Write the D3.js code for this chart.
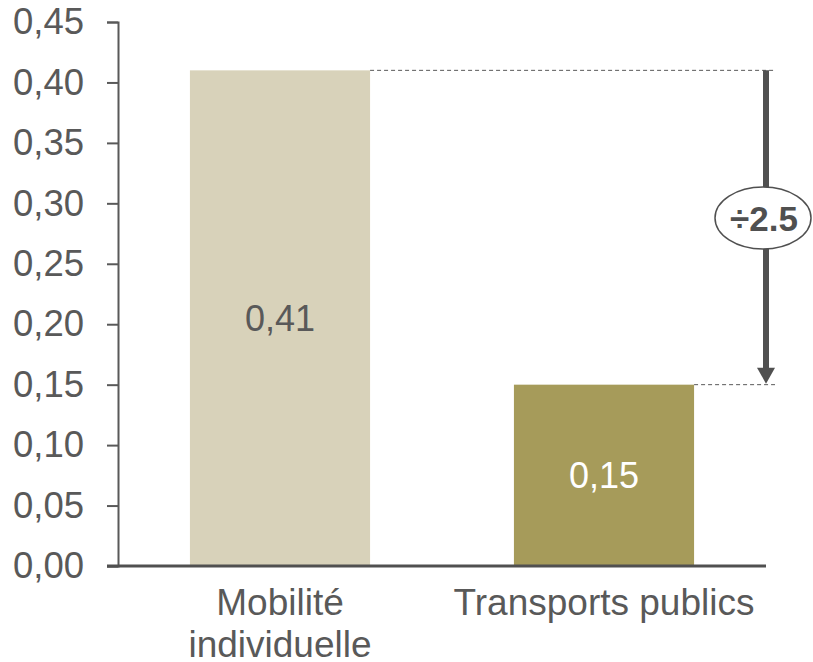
<!DOCTYPE html>
<html>
<head>
<meta charset="utf-8">
<script src="https://cdn.jsdelivr.net/npm/d3@7"></script>
<style>
  body { margin: 0; background: #fff; }
  text { font-family: "Liberation Sans", Arial, sans-serif; fill: #595959; }
</style>
</head>
<body>
<script>
var categories = [["Mobilité", "individuelle"], ["Transports publics"]];
var values = [0.41, 0.15];
var barColors = ["#d8d2ba", "#a69b5a"];
var labelColors = ["#595959", "#ffffff"];
var tickValues = [0, 0.05, 0.10, 0.15, 0.20, 0.25, 0.30, 0.35, 0.40, 0.45];
var ratioLabel = "÷2.5";

var w = 813, h = 662;
var plot = { left: 118, right: 766, top: 22, bottom: 566 };

var svg = d3.select("body")
    .append("svg")
    .attr("width", w)
    .attr("height", h);

var fr = d3.formatLocale({ decimal: ",", thousands: " ", grouping: [3], currency: ["", "€"] });
var fmt = fr.format(".2f");

var y = d3.scaleLinear().domain([0, 0.45]).range([plot.bottom, plot.top]);
var x = d3.scaleBand()
    .domain(d3.range(values.length))
    .range([plot.left, plot.right])
    .paddingInner(0.444)
    .paddingOuter(0.222);

// bars
svg.selectAll("rect.bar")
    .data(values)
    .enter()
    .append("rect")
    .attr("class", "bar")
    .attr("x", function (d, i) { return x(i) })
    .attr("width", x.bandwidth())
    .attr("y", function (d) { return y(d) })
    .attr("height", function (d) { return y(0) - y(d) })
    .attr("fill", function (d, i) { return barColors[i] });

// value labels
svg.selectAll("text.val")
    .data(values)
    .enter()
    .append("text")
    .attr("class", "val")
    .attr("x", function (d, i) { return x(i) + x.bandwidth() / 2 })
    .attr("y", function (d) { return (y(d) + y(0)) / 2 + 13 })
    .attr("text-anchor", "middle")
    .style("font-size", "36px")
    .style("fill", function (d, i) { return labelColors[i] })
    .text(function (d) { return fmt(d) });

// y axis
var yAxis = svg.append("g")
    .attr("transform", "translate(" + plot.left + ",0)")
    .call(d3.axisLeft(y).tickValues(tickValues).tickFormat(fmt).tickSize(11).tickPadding(23));
yAxis.select(".domain").attr("stroke", "#595959").attr("stroke-width", 2);
yAxis.selectAll(".tick line").attr("stroke", "#595959").attr("stroke-width", 2);
yAxis.selectAll(".tick text")
    .style("font-size", "36.5px")
    .style("font-family", "'Liberation Sans', Arial, sans-serif")
    .attr("fill", "#595959");

// x axis line
svg.append("line")
    .attr("x1", plot.left - 11).attr("x2", plot.right)
    .attr("y1", y(0)).attr("y2", y(0))
    .attr("stroke", "#505050")
    .attr("stroke-width", 3);

// category labels
categories.forEach(function (lines, i) {
    var t = svg.append("text")
        .attr("text-anchor", "middle")
        .style("font-size", "37px");
    lines.forEach(function (s, j) {
        t.append("tspan")
            .attr("x", x(i) + x.bandwidth() / 2)
            .attr("y", 615 + j * 42)
            .text(s);
    });
});

// ratio annotation
var ax = 766, dashEnd = 775;
svg.append("line")
    .attr("x1", x(0) + x.bandwidth()).attr("x2", dashEnd)
    .attr("y1", y(values[0])).attr("y2", y(values[0]))
    .attr("stroke", "#595959").attr("stroke-dasharray", "4,3");
svg.append("line")
    .attr("x1", x(1) + x.bandwidth()).attr("x2", dashEnd)
    .attr("y1", y(values[1])).attr("y2", y(values[1]))
    .attr("stroke", "#595959").attr("stroke-dasharray", "4,3");

svg.append("line")
    .attr("x1", ax).attr("x2", ax)
    .attr("y1", y(values[0])).attr("y2", y(values[1]) - 14)
    .attr("stroke", "#505050").attr("stroke-width", 6);
svg.append("path")
    .attr("d", "M" + (ax - 9) + "," + (y(values[1]) - 17) + "L" + (ax + 9) + "," + (y(values[1]) - 17) + "L" + ax + "," + (y(values[1]) - 1) + "Z")
    .attr("fill", "#505050");

svg.append("ellipse")
    .attr("cx", 763).attr("cy", 218)
    .attr("rx", 48).attr("ry", 31)
    .attr("fill", "#fff")
    .attr("stroke", "#505050")
    .attr("stroke-width", 1.5);
svg.append("text")
    .attr("x", 764).attr("y", 231)
    .attr("text-anchor", "middle")
    .style("font-size", "35px")
    .style("font-weight", "bold")
    .style("fill", "#505050")
    .text(ratioLabel);
</script>
</body>
</html>
